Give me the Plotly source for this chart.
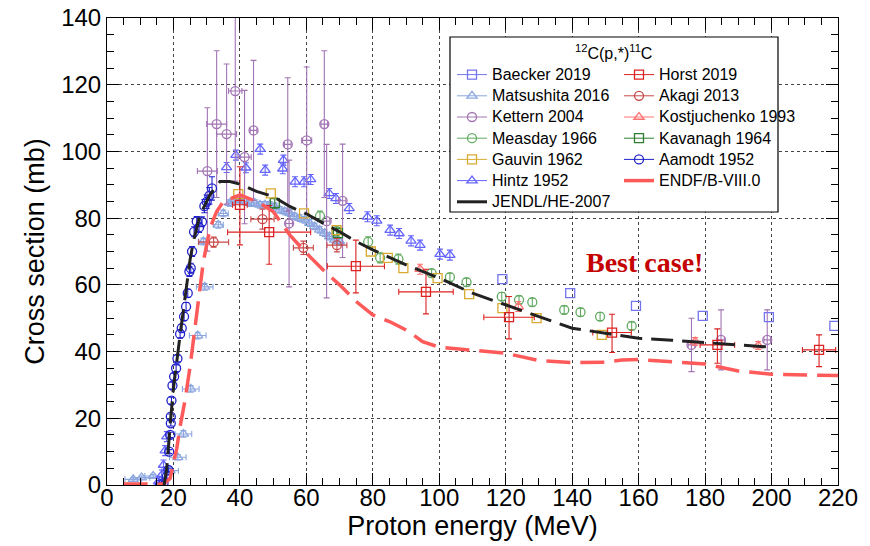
import plotly.graph_objects as go

# ---------------- data ----------------
baecker_x = [119.0, 139.4, 159.2, 179.3, 199.2, 218.9]
baecker_y = [61.7, 57.5, 53.7, 50.7, 50.3, 47.7]

horst_x = [40.0, 48.8, 74.9, 96.0, 121.0, 152.0, 183.7, 214.3]
horst_y = [84.0, 75.8, 65.6, 57.9, 50.3, 45.7, 42.0, 40.5]
horst_eyp = [11.4, 8.0, 7.8, 6.8, 6.2, 5.5, 4.8, 4.5]
horst_eym = [12.0, 9.6, 8.0, 6.6, 6.5, 6.0, 5.5, 5.0]
horst_ex = [2.2, 12.5, 8.6, 8.2, 7.6, 5.8, 5.2, 5.0]

mats_x = [7.9, 10.4, 13.9, 19.0, 21.3, 23.0, 25.2, 27.3, 29.4, 29.0, 33.5, 35.0,
          37.0, 38.5, 40.0, 41.5, 43.0, 44.5, 46.0, 47.5, 49.0, 50.5, 52.0, 53.5,
          55.0, 56.5, 58.0, 59.5, 61.0, 62.5, 64.0, 65.5, 67.0, 68.5, 70.0]
mats_y = [1.7, 2.2, 2.7, 4.3, 8.3, 15.3, 28.8, 44.8, 59.4, 73.0, 78.0, 81.4,
          84.5, 85.5, 85.5, 85.0, 84.5, 84.5, 84.0, 84.0, 84.0, 83.5, 82.5, 82.0,
          81.5, 80.5, 80.0, 79.5, 78.5, 77.5, 76.5, 75.5, 74.5, 73.5, 73.0]
mats_ex = [2.5, 2.5, 2.5, 2.5, 2.5, 2.5, 2.5, 2.5, 2.5, 1.5, 1.5, 1.5,
           0.5, 0.5, 0.5, 0.5, 0.5, 0.5, 0.5, 0.5, 0.5, 0.5, 0.5, 0.5,
           0.5, 0.5, 0.5, 0.5, 0.5, 0.5, 0.5, 0.5, 0.5, 0.5, 0.5]
mats_ey = [0.5, 0.5, 0.5, 0.5, 0.8, 1.0, 1.0, 1.0, 1.0, 1.0, 1.0, 1.0,
           1.0, 1.0, 1.0, 1.0, 1.0, 1.0, 1.0, 1.0, 1.0, 1.0, 1.0, 1.0,
           1.0, 1.0, 1.0, 1.0, 1.0, 1.0, 1.0, 1.0, 1.0, 1.0, 1.0]

akagi_x = [32.1, 46.8, 59.1, 69.2]
akagi_y = [72.8, 79.7, 71.1, 71.9]
akagi_ex = [4.5, 3.5, 3.0, 3.0]
akagi_ey = [1.5, 3.0, 2.0, 2.0]

kett_x = [30.2, 33.0, 36.0, 38.6, 41.4, 44.1, 54.4, 54.8, 60.1, 65.4, 66.1, 70.9, 175.9, 184.8, 198.7]
kett_y = [94.1, 108.2, 105.2, 118.1, 98.3, 106.3, 102.1, 78.4, 103.3, 108.2, 79.1, 85.2, 42.0, 43.5, 43.5]
kett_eyp = [19.0, 22.0, 21.0, 27.0, 20.0, 21.0, 20.0, 19.0, 22.0, 22.0, 23.0, 17.0, 8.0, 9.0, 9.0]
kett_eym = [24.0, 22.0, 21.0, 27.0, 20.0, 21.0, 20.0, 19.0, 22.0, 22.0, 23.0, 17.0, 8.0, 9.0, 9.0]
kett_ex = [3.0, 3.0, 3.0, 2.0, 2.0, 1.0, 1.0, 1.0, 1.5, 1.0, 1.0, 1.0, 1.0, 1.0, 1.0]

kost_x = [94.2, 123.8, 177.0, 196.0]
kost_y = [64.7, 53.5, 43.0, 41.8]

meas_x = [64.1, 69.1, 78.6, 82.2, 87.7, 97.7, 103.2, 108.2, 118.8, 124.0, 128.0, 137.6, 142.5, 148.4, 157.9]
meas_y = [80.6, 76.2, 72.9, 68.1, 67.7, 63.5, 62.3, 60.8, 56.5, 55.5, 54.8, 52.5, 51.8, 50.5, 47.7]
meas_ey = [1.5, 1.5, 1.5, 1.5, 1.5, 1.2, 1.2, 1.2, 1.2, 1.2, 1.2, 1.2, 1.2, 1.2, 1.2]

kav_x = [50.5, 69.5]
kav_y = [84.5, 75.5]

gauv_x = [39.5, 49.3, 59.3, 69.1, 79.4, 84.5, 89.2, 99.5, 109.0, 119.0, 129.3, 148.9]
gauv_y = [87.2, 87.4, 81.4, 76.4, 70.0, 68.1, 65.0, 62.0, 57.2, 53.0, 50.0, 45.0]

aam_x = [16.0, 17.0, 18.0, 18.5, 18.7, 19.0, 19.2, 19.2, 19.4, 19.7, 20.2, 20.8, 21.2, 22.0,
         22.5, 23.2, 23.8, 24.3, 24.8, 25.2, 25.6, 26.2, 27.0, 27.7, 28.6, 29.3, 30.0, 30.8, 31.6]
aam_y = [0.2, 0.5, 2.5, 4.5, 10.0, 15.0, 18.5, 20.5, 25.3, 29.8, 32.5, 35.0, 37.9, 45.3,
         47.0, 50.5, 53.5, 57.5, 64.0, 65.0, 70.0, 75.9, 79.0, 77.2, 78.9, 83.6, 84.9, 86.7, 88.9]
aam_ey = [0.5, 0.5, 0.5, 0.5, 0.6, 0.8, 0.8, 0.8, 1.0, 1.0, 1.0, 1.0, 1.0, 1.2,
          1.2, 1.2, 1.2, 1.2, 1.5, 1.5, 1.5, 1.5, 1.5, 1.5, 1.5, 2.0, 2.0, 2.5, 3.5]

hintz_x = [15.5, 16.5, 17.0, 17.5, 18.0, 36.0, 38.8, 41.8, 46.1, 47.6, 52.9, 53.1, 56.6, 59.3, 61.3,
           66.9, 68.9, 72.9, 78.4, 81.2, 85.2, 87.9, 91.5, 94.2, 100.2, 103.2]
hintz_y = [1.0, 3.0, 6.0, 10.3, 14.5, 95.2, 98.9, 95.1, 100.7, 94.4, 94.8, 97.4, 90.9, 90.9, 91.6,
           87.4, 85.9, 82.9, 80.4, 79.2, 76.4, 75.4, 73.2, 71.9, 69.2, 68.9]

endf_x = [5, 17, 19, 20, 21, 22, 23.5, 25, 26.5, 28, 29, 30, 31, 33, 35, 40, 45, 50, 55, 60, 65,
          70, 75, 80, 85, 90, 95, 100, 110, 120, 130, 140, 150, 155, 160, 170, 180, 190, 200, 220]
endf_y = [0.3, 0.3, 2.0, 6.0, 11.0, 17.5, 25.5, 35.5, 47.5, 60.5, 67.0, 72.0, 77.0, 82.0, 85.0, 87.0,
          85.0, 82.0, 75.0, 69.5, 64.5, 60.0, 55.0, 51.0, 49.0, 46.5, 43.0, 41.3, 40.3, 39.5, 37.3,
          36.7, 36.8, 37.5, 37.6, 37.0, 36.3, 34.2, 33.2, 32.8]

jendl_x = [17.2, 18, 19, 20, 22, 24, 25, 26, 28, 31, 34, 37, 40, 45, 50, 55, 60, 65, 70, 75, 80,
           90, 100, 110, 120, 130, 140, 150, 160, 170, 180, 190, 200]
jendl_y = [0.0, 5.0, 18.0, 29.0, 45.0, 61.0, 67.5, 73.0, 81.0, 87.0, 91.0, 91.0, 90.2, 88.0, 86.5,
           83.5, 81.3, 78.5, 75.9, 73.0, 70.5, 66.0, 62.0, 57.5, 54.0, 50.5, 47.0, 45.5, 44.0, 43.4,
           42.7, 42.0, 41.3]

legend_title = "<sup>12</sup>C(p,*)<sup>11</sup>C"

C = dict(baecker="#7474ee", horst="#dd2222", mats="#8ca6e0", akagi="#c84848", kett="#a274b4",
         kost="#ff7272", meas="#62aa62", kav="#2e7d32", gauv="#d8aa30", aam="#2222cc",
         hintz="#6464ff", endf="#ff5a5a", jendl="#222222")

fig = go.Figure()


def err(arr_p, arr_m=None, color="black"):
    return dict(type="data", symmetric=arr_m is None, array=arr_p,
                arrayminus=arr_m if arr_m is not None else arr_p,
                color=color, thickness=1.1, width=3)


def data_trace(x, y, color, symbol, ex=None, eyp=None, eym=None):
    fig.add_trace(go.Scatter(
        x=x, y=y, mode="markers", showlegend=False, hoverinfo="x+y",
        marker=dict(symbol=symbol, size=9, color=color, line=dict(color=color, width=1.3)),
        error_x=err(ex, None, color) if ex is not None else None,
        error_y=err(eyp, eym, color) if eyp is not None else None))


data_trace(mats_x, mats_y, C["mats"], "triangle-up-open", mats_ex, mats_ey)
data_trace(hintz_x, hintz_y, C["hintz"], "triangle-up-open", None, [1.5] * len(hintz_x))
data_trace(kett_x, kett_y, C["kett"], "circle-open", kett_ex, kett_eyp, kett_eym)
data_trace(aam_x, aam_y, C["aam"], "circle-open", None, aam_ey)
data_trace(meas_x, meas_y, C["meas"], "circle-open", None, meas_ey)
data_trace(kav_x, kav_y, C["kav"], "square-open", None, [1.5, 1.5])
data_trace(gauv_x, gauv_y, C["gauv"], "square-open")
data_trace(baecker_x, baecker_y, C["baecker"], "square-open")
data_trace(kost_x, kost_y, C["kost"], "triangle-up-open", None, [1.5, 1.5, 1.2, 1.2])
data_trace(akagi_x, akagi_y, C["akagi"], "circle-open", akagi_ex, akagi_ey)
data_trace(horst_x, horst_y, C["horst"], "square-open", horst_ex, horst_eyp, horst_eym)

fig.add_trace(go.Scatter(x=endf_x, y=endf_y, mode="lines", showlegend=False,
                         line=dict(color=C["endf"], width=3.5, dash="24px,10px")))
fig.add_trace(go.Scatter(x=jendl_x, y=jendl_y, mode="lines", showlegend=False,
                         line=dict(color=C["jendl"], width=3, dash="22px,9px")))

left_items = [("Baecker 2019", "baecker", "square-open"),
              ("Matsushita 2016", "mats", "triangle-up-open"),
              ("Kettern 2004", "kett", "circle-open"),
              ("Measday 1966", "meas", "circle-open"),
              ("Gauvin 1962", "gauv", "square-open"),
              ("Hintz 1952", "hintz", "triangle-up-open"),
              ("JENDL/HE-2007", "jendl", None)]
right_items = [("Horst 2019", "horst", "square-open"),
               ("Akagi 2013", "akagi", "circle-open"),
               ("Kostjuchenko 1993", "kost", "triangle-up-open"),
               ("Kavanagh 1964", "kav", "square-open"),
               ("Aamodt 1952", "aam", "circle-open"),
               ("ENDF/B-VIII.0", "endf", None)]

for items, lg in ((left_items, "legend"), (right_items, "legend2")):
    for name, key, sym in items:
        label = '<span style="font-size:16px">' + name + '</span>'
        if sym is None:
            fig.add_trace(go.Scatter(x=[None], y=[None], mode="lines", name=label, legend=lg,
                                     line=dict(color=C[key], width=3.5 if key == "endf" else 3)))
        else:
            fig.add_trace(go.Scatter(x=[None], y=[None], mode="lines+markers", name=label, legend=lg,
                                     line=dict(color=C[key], width=1),
                                     marker=dict(symbol=sym, size=9, color=C[key],
                                                 line=dict(color=C[key], width=1.3))))

W, H = 870, 546
L, R, T, B = 107, 32, 18, 61
pw, ph = W - L - R, H - T - B


def px2x(p):
    return (p - L) / pw


def px2y(p):
    return (H - B - p) / ph


legfont = dict(family="Liberation Sans", size=14, color="black")
fig.update_layout(
    width=W, height=H, margin=dict(l=L, r=R, t=T, b=B, autoexpand=False),
    paper_bgcolor="white", plot_bgcolor="white",
    font=dict(family="Liberation Sans", color="black"),
    legend=dict(x=px2x(452), y=px2y(59), xanchor="left", yanchor="top", bgcolor="rgba(0,0,0,0)",
                borderwidth=0, font=legfont, itemwidth=30, tracegroupgap=0),
    legend2=dict(x=px2x(619), y=px2y(59), xanchor="left", yanchor="top", bgcolor="rgba(0,0,0,0)",
                 borderwidth=0, font=legfont, itemwidth=30, tracegroupgap=0),
    xaxis=dict(range=[0, 220], dtick=20, tick0=0, ticks="inside", ticklen=12, tickwidth=1,
               tickcolor="black", showline=True, linecolor="black", linewidth=1, mirror="ticks",
               showgrid=True, gridcolor="#444444", griddash="dot", gridwidth=1, zeroline=False,
               tickfont=dict(size=24), ticklabelstandoff=-9,
               title=dict(text="Proton energy (MeV)", font=dict(size=27), standoff=4),
               minor=dict(dtick=5, ticks="inside", ticklen=7, tickcolor="black", showgrid=False)),
    yaxis=dict(range=[0, 140], dtick=20, tick0=0, ticks="inside", ticklen=12, tickwidth=1,
               tickcolor="black", showline=True, linecolor="black", linewidth=1, mirror="ticks",
               showgrid=True, gridcolor="#444444", griddash="dot", gridwidth=1, zeroline=False,
               tickfont=dict(size=24), title=dict(text="Cross section (mb)", font=dict(size=27), standoff=8),
               minor=dict(dtick=5, ticks="inside", ticklen=7, tickcolor="black", showgrid=False)),
    shapes=[dict(type="rect", xref="paper", yref="paper", x0=px2x(450), x1=px2x(778),
                 y0=px2y(212), y1=px2y(37), line=dict(color="black", width=1.2),
                 fillcolor="white", layer="above")],
    annotations=[
        dict(text=legend_title, xref="paper", yref="paper", x=px2x(613), y=px2y(52),
             showarrow=False, font=dict(family="Liberation Sans", size=16, color="black"),
             xanchor="center", yanchor="middle"),
        dict(text="<b>Best case!</b>", x=161.9, y=66.8, xref="x", yref="y", showarrow=False,
             font=dict(family="Liberation Serif", size=28, color="#c40000"))
    ])

fig.write_html("out.html")
